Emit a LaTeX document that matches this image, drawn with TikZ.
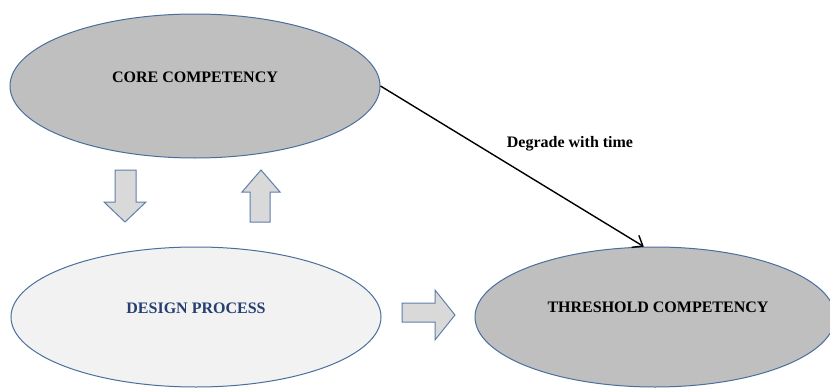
\documentclass[tikz,border=0pt]{standalone}
\usepackage{fontspec}
\setmainfont{Liberation Serif}
\usetikzlibrary{arrows.meta,shapes.geometric}
\definecolor{ovalgray}{HTML}{BFBFBF}
\definecolor{ovallight}{HTML}{F2F2F2}
\definecolor{ovalline}{HTML}{4A6F9C}
\definecolor{blockfill}{HTML}{D9D9D9}
\definecolor{blockline}{HTML}{5F7FAB}
\definecolor{designtext}{HTML}{253F6E}
\tikzset{
  oval/.style={ellipse, draw=ovalline, line width=1pt, inner sep=0pt,
    font=\fontsize{16}{18}\selectfont\bfseries},
  blockarrow/.style={draw=blockline, fill=blockfill, line width=1pt, line join=miter},
  flowline/.style={line width=1.4pt, -{Straight Barb[length=9pt,width=14pt,line width=1.4pt]}},
  flowlabel/.style={font=\fontsize{16}{18}\selectfont\bfseries}
}
\begin{document}
\begin{tikzpicture}[x=1pt,y=-1pt]
  \useasboundingbox (0,0) rectangle (830,388);
  \fill[white] (0,0) rectangle (830,388);
  \clip (0,0) rectangle (830,388);

  % the three competency ovals
  \node[oval, fill=ovalgray, minimum width=370pt, minimum height=144pt] (core) at (195,86) {};
  \node[font=\fontsize{16}{18}\selectfont\bfseries] (coretxt) at (195,77) {CORE COMPETENCY};

  \node[oval, fill=ovallight, minimum width=370pt, minimum height=140pt] (design) at (196,317) {};
  \node[font=\fontsize{16}{18}\selectfont\bfseries, text=designtext] (designtxt) at (196,308) {DESIGN PROCESS};

  \node[oval, fill=ovalgray, minimum width=360pt, minimum height=140pt] (thr) at (655,317) {};
  \node[font=\fontsize{16}{18}\selectfont\bfseries] (thrtxt) at (658,307) {THRESHOLD COMPETENCY};

  % block arrows between the ovals
  \draw[blockarrow] (115,170) -- (136,170) -- (136,202) -- (146,202) -- (125,222)
    -- (104,202) -- (115,202) -- cycle;
  \draw[blockarrow] (250,222) -- (270,222) -- (270,192) -- (280,192) -- (261,170)
    -- (242,192) -- (250,192) -- cycle;
  \draw[blockarrow] (402,303) -- (435,303) -- (435,290) -- (455,315) -- (435,340)
    -- (435,322) -- (402,322) -- cycle;

  % degradation connector
  \draw[flowline] (core.east) -- (thr.99);
  \node[flowlabel] (degrade) at (570,144) {Degrade with time};
\end{tikzpicture}
\end{document}
